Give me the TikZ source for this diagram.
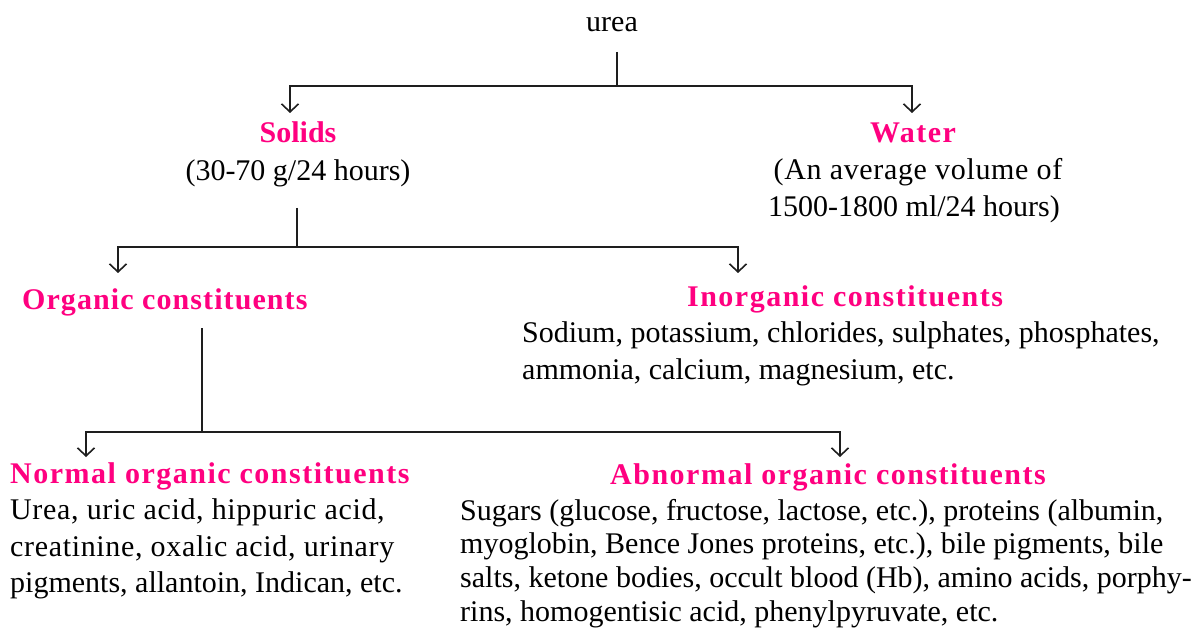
\documentclass[tikz,border=0pt]{standalone}
\usepackage{fontspec}
\setmainfont{Liberation Serif}
\newfontfamily\spacedserif[LetterSpace=5]{Liberation Serif}
\newfontfamily\midserif[LetterSpace=3.6]{Liberation Serif}
\newfontfamily\slightserif[LetterSpace=2.2]{Liberation Serif}
\usetikzlibrary{arrows.meta}
\definecolor{hpink}{RGB}{255,0,128}
\definecolor{lineblack}{RGB}{30,30,30}
\begin{document}
\begin{tikzpicture}[x=1pt,y=-1pt,
  txt/.style={inner sep=0pt, font=\fontsize{30}{36}\selectfont},
  txtwide/.style={inner sep=0pt, font=\fontsize{30}{36}\slightserif},
  head/.style={inner sep=0pt, font=\fontsize{30}{36}\selectfont\bfseries, text=hpink},
  headwide/.style={inner sep=0pt, font=\fontsize{30}{36}\spacedserif\bfseries, text=hpink},
  headmid/.style={inner sep=0pt, font=\fontsize{30}{36}\midserif\bfseries, text=hpink},
  conn/.style={line width=2pt, draw=lineblack},
  arr/.style={conn, -{Straight Barb[length=8pt,width=17pt,line width=1.6pt]}}]
\useasboundingbox[fill=white] (0,0) rectangle (1194,628);

% texts
\node[txt, anchor=base] (urea) at (612,32) {urea};
\node[head, anchor=base] (solids) at (298,143) {Solids};
\node[txt, anchor=base] (solidsA) at (298,181) {(30-70 g/24 hours)};
\node[headwide, anchor=base] (water) at (913,143) {Water};
\node[txtwide, anchor=base] (waterA) at (918,180) {(An average volume of};
\node[txt, anchor=base] (waterB) at (914,217) {1500-1800 ml/24 hours)};
\node[headmid, anchor=base west] (org) at (22,309) {Organic constituents};
\node[headwide, anchor=base] (inorg) at (845,307) {Inorganic constituents};
\node[txt, anchor=base west] (inorgA) at (522,342) {Sodium, potassium, chlorides, sulphates, phosphates,};
\node[txt, anchor=base west] (inorgB) at (522,379) {ammonia, calcium, magnesium, etc.};
\node[headwide, anchor=base west] (norm) at (10,483) {Normal organic constituents};
\node[txtwide, anchor=base west] (normA) at (10,519) {Urea, uric acid, hippuric acid,};
\node[txtwide, anchor=base west] (normB) at (10,556) {creatinine, oxalic acid, urinary};
\node[txt, anchor=base west] (normC) at (10,592) {pigments, allantoin, Indican, etc.};
\node[headwide, anchor=base] (abn) at (828,484) {Abnormal organic constituents};
\node[txt, anchor=base west] (abnA) at (460,520) {Sugars (glucose, fructose, lactose, etc.), proteins (albumin,};
\node[txt, anchor=base west] (abnB) at (460,553) {myoglobin, Bence Jones proteins, etc.), bile pigments, bile};
\node[txt, anchor=base west] (abnC) at (460,587) {salts, ketone bodies, occult blood (Hb), amino acids, porphy-};
\node[txt, anchor=base west] (abnD) at (460,621) {rins, homogentisic acid, phenylpyruvate, etc.};

% connector points
\coordinate (r0) at (617,52);  \coordinate (j0) at (617,86);
\coordinate (aS) at (290,113); \coordinate (aW) at (912,113);
\coordinate (r1) at (297,208); \coordinate (j1) at (297,247);
\coordinate (aO) at (118,273); \coordinate (aI) at (738,273);
\coordinate (r2) at (202,328); \coordinate (j2) at (202,432);
\coordinate (aN) at (86,457);  \coordinate (aA) at (840,457);

\draw[conn] (r0) -- (j0);
\draw[arr] (j0) -| (aS);
\draw[arr] (j0) -| (aW);
\draw[conn] (r1) -- (j1);
\draw[arr] (j1) -| (aO);
\draw[arr] (j1) -| (aI);
\draw[conn] (r2) -- (j2);
\draw[arr] (j2) -| (aN);
\draw[arr] (j2) -| (aA);
\end{tikzpicture}
\end{document}
